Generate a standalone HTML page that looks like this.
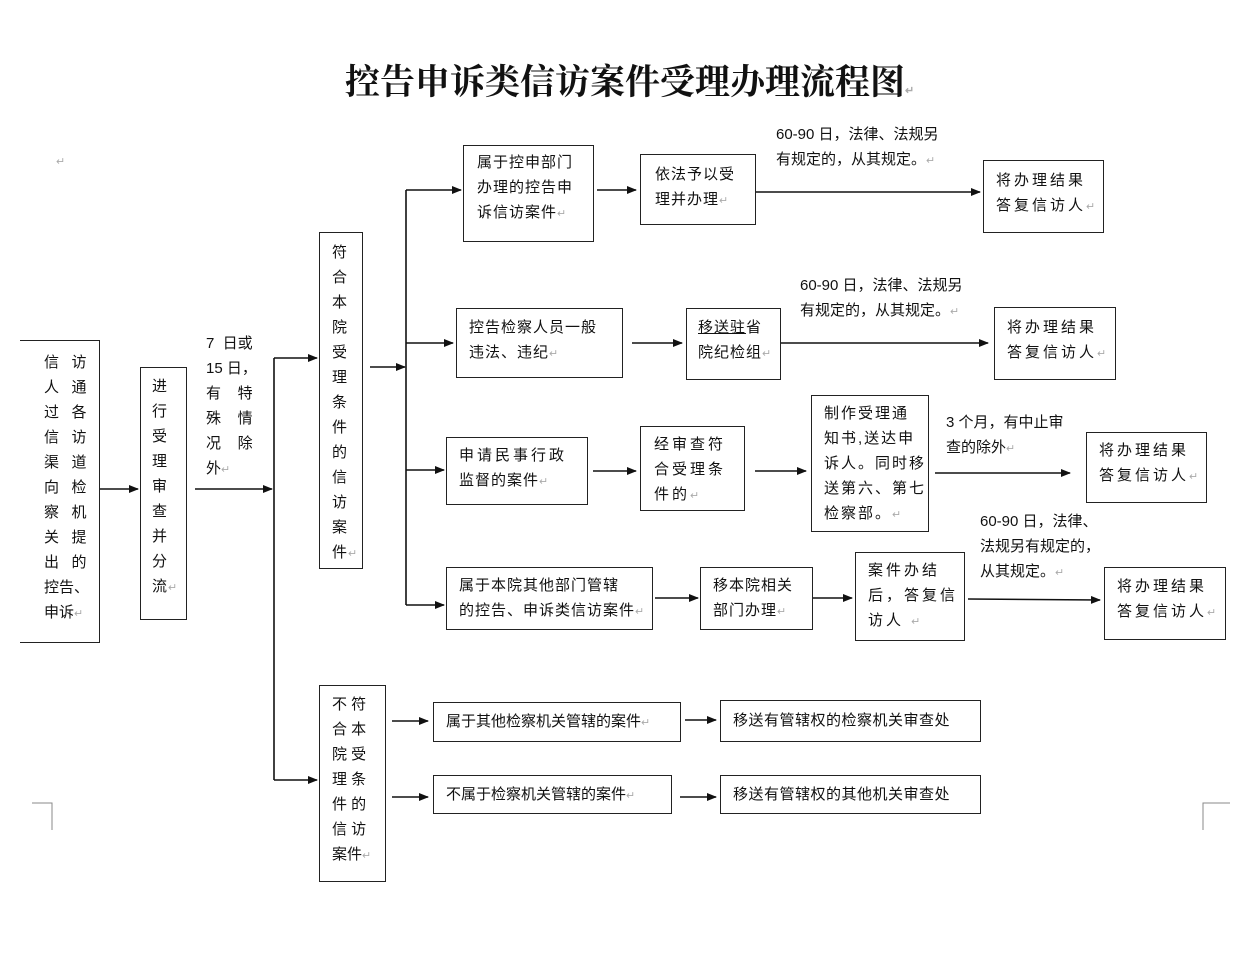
<!DOCTYPE html>
<html><head><meta charset="utf-8"><style>
body{margin:0;width:1235px;height:954px;background:#fff;position:relative;overflow:hidden;font-family:"Liberation Sans","Noto Sans CJK SC",sans-serif;color:#111}
.b{position:absolute;border:1.5px solid #222;box-sizing:border-box}
.t{position:absolute;font-size:15px;line-height:25px;white-space:nowrap;letter-spacing:1px}
.r{color:#aaa;font-size:11px}
svg{position:absolute;left:0;top:0}
</style></head><body>
<div class="t" style="left:345px;top:60px;font-size:35px;line-height:46px;font-weight:bold;font-family:'Liberation Serif','Noto Serif CJK SC',serif;letter-spacing:0">控告申诉类信访案件受理办理流程图<span class="r">↵</span></div>
<div class="t r" style="left:56px;top:150px">↵</div>

<svg width="1235" height="954">
<defs><marker id="a" markerWidth="10" markerHeight="8" refX="9" refY="4" orient="auto" markerUnits="userSpaceOnUse"><path d="M0,0L10,4L0,8z" fill="#111"/></marker></defs>
<g stroke="#111" stroke-width="1.6" fill="none">
<line x1="100" y1="489" x2="138" y2="489" marker-end="url(#a)"/>
<line x1="195" y1="489" x2="272" y2="489" marker-end="url(#a)"/>
<line x1="274" y1="358" x2="274" y2="780"/>
<line x1="274" y1="358" x2="317" y2="358" marker-end="url(#a)"/>
<line x1="274" y1="780" x2="317" y2="780" marker-end="url(#a)"/>
<line x1="370" y1="367" x2="405" y2="367" marker-end="url(#a)"/>
<line x1="406" y1="190" x2="406" y2="605"/>
<line x1="406" y1="190" x2="461" y2="190" marker-end="url(#a)"/>
<line x1="406" y1="343" x2="453" y2="343" marker-end="url(#a)"/>
<line x1="406" y1="470" x2="444" y2="470" marker-end="url(#a)"/>
<line x1="406" y1="605" x2="444" y2="605" marker-end="url(#a)"/>
<line x1="597" y1="190" x2="636" y2="190" marker-end="url(#a)"/>
<line x1="755" y1="192" x2="980" y2="192" marker-end="url(#a)"/>
<line x1="632" y1="343" x2="682" y2="343" marker-end="url(#a)"/>
<line x1="780" y1="343" x2="988" y2="343" marker-end="url(#a)"/>
<line x1="593" y1="471" x2="636" y2="471" marker-end="url(#a)"/>
<line x1="755" y1="471" x2="806" y2="471" marker-end="url(#a)"/>
<line x1="935" y1="473" x2="1070" y2="473" marker-end="url(#a)"/>
<line x1="655" y1="598" x2="698" y2="598" marker-end="url(#a)"/>
<line x1="812" y1="598" x2="852" y2="598" marker-end="url(#a)"/>
<line x1="968" y1="599" x2="1100" y2="600" marker-end="url(#a)"/>
<line x1="392" y1="721" x2="428" y2="721" marker-end="url(#a)"/>
<line x1="392" y1="797" x2="428" y2="797" marker-end="url(#a)"/>
<line x1="685" y1="720" x2="716" y2="720" marker-end="url(#a)"/>
<line x1="680" y1="797" x2="716" y2="797" marker-end="url(#a)"/>
<polyline points="32,803 52,803 52,830" stroke="#888" stroke-width="1"/>
<polyline points="1230,803 1203,803 1203,830" stroke="#888" stroke-width="1"/>
</g></svg>

<div class="b" style="left:20px;top:340px;width:80px;height:303px;border-left:none"></div>
<div class="t" style="left:44px;top:350px;line-height:25px;letter-spacing:0">信&nbsp;&nbsp;&nbsp;访<br>人&nbsp;&nbsp;&nbsp;通<br>过&nbsp;&nbsp;&nbsp;各<br>信&nbsp;&nbsp;&nbsp;访<br>渠&nbsp;&nbsp;&nbsp;道<br>向&nbsp;&nbsp;&nbsp;检<br>察&nbsp;&nbsp;&nbsp;机<br>关&nbsp;&nbsp;&nbsp;提<br>出&nbsp;&nbsp;&nbsp;的<br>控告、<br>申诉<span class="r">↵</span></div>

<div class="b" style="left:140px;top:367px;width:47px;height:253px"></div>
<div class="t" style="left:152px;top:374px">进<br>行<br>受<br>理<br>审<br>查<br>并<br>分<br>流<span class="r">↵</span></div>

<div class="t" style="left:206px;top:331px;line-height:25px;letter-spacing:0">7&nbsp; 日或<br>15 日，<br>有&nbsp;&nbsp;&nbsp;&nbsp;特<br>殊&nbsp;&nbsp;&nbsp;&nbsp;情<br>况&nbsp;&nbsp;&nbsp;&nbsp;除<br>外<span class="r">↵</span></div>

<div class="b" style="left:319px;top:232px;width:44px;height:337px"></div>
<div class="t" style="left:332px;top:240px">符<br>合<br>本<br>院<br>受<br>理<br>条<br>件<br>的<br>信<br>访<br>案<br>件<span class="r">↵</span></div>

<div class="b" style="left:463px;top:145px;width:131px;height:97px"></div>
<div class="t" style="left:477px;top:150px">属于控申部门<br>办理的控告申<br>诉信访案件<span class="r">↵</span></div>
<div class="b" style="left:640px;top:154px;width:116px;height:71px"></div>
<div class="t" style="left:655px;top:162px">依法予以受<br>理并办理<span class="r">↵</span></div>
<div class="t" style="left:776px;top:122px;letter-spacing:0">60-90 日，法律、法规另<br>有规定的，从其规定。<span class="r">↵</span></div>
<div class="b" style="left:983px;top:160px;width:121px;height:73px"></div>
<div class="t" style="left:996px;top:168px;letter-spacing:3px">将办理结果<br>答复信访人<span class="r">↵</span></div>

<div class="b" style="left:456px;top:308px;width:167px;height:70px"></div>
<div class="t" style="left:469px;top:315px">控告检察人员一般<br>违法、违纪<span class="r">↵</span></div>
<div class="b" style="left:686px;top:308px;width:95px;height:72px"></div>
<div class="t" style="left:698px;top:315px"><u>移送驻</u>省<br>院纪检组<span class="r">↵</span></div>
<div class="t" style="left:800px;top:273px;letter-spacing:0">60-90 日，法律、法规另<br>有规定的，从其规定。<span class="r">↵</span></div>
<div class="b" style="left:994px;top:307px;width:122px;height:73px"></div>
<div class="t" style="left:1007px;top:315px;letter-spacing:3px">将办理结果<br>答复信访人<span class="r">↵</span></div>

<div class="b" style="left:446px;top:437px;width:142px;height:68px"></div>
<div class="t" style="left:459px;top:443px;letter-spacing:3px">申请民事行政<br><span style="letter-spacing:1px">监督的案件</span><span class="r">↵</span></div>
<div class="b" style="left:640px;top:426px;width:105px;height:85px"></div>
<div class="t" style="left:654px;top:432px;letter-spacing:3px">经审查符<br>合受理条<br>件的<span class="r">↵</span></div>
<div class="b" style="left:811px;top:395px;width:118px;height:137px"></div>
<div class="t" style="left:824px;top:401px;letter-spacing:2px">制作受理通<br>知书,送达申<br>诉人。同时移<br>送第六、第七<br>检察部。<span class="r">↵</span></div>
<div class="t" style="left:946px;top:410px;letter-spacing:0">3 个月，有中止审<br>查的除外<span class="r">↵</span></div>
<div class="b" style="left:1086px;top:432px;width:121px;height:71px"></div>
<div class="t" style="left:1099px;top:438px;letter-spacing:3px">将办理结果<br>答复信访人<span class="r">↵</span></div>

<div class="b" style="left:446px;top:567px;width:207px;height:63px"></div>
<div class="t" style="left:459px;top:573px">属于本院其他部门管辖<br>的控告、申诉类信访案件<span class="r">↵</span></div>
<div class="b" style="left:700px;top:567px;width:113px;height:63px"></div>
<div class="t" style="left:713px;top:573px">移本院相关<br>部门办理<span class="r">↵</span></div>
<div class="b" style="left:855px;top:552px;width:110px;height:89px"></div>
<div class="t" style="left:868px;top:558px;letter-spacing:3px">案件办结<br>后，答复信<br>访人 <span class="r">↵</span></div>
<div class="t" style="left:980px;top:509px;letter-spacing:0">60-90 日，法律、<br>法规另有规定的，<br>从其规定。<span class="r">↵</span></div>
<div class="b" style="left:1104px;top:567px;width:122px;height:73px"></div>
<div class="t" style="left:1117px;top:574px;letter-spacing:3px">将办理结果<br>答复信访人<span class="r">↵</span></div>

<div class="b" style="left:319px;top:685px;width:67px;height:197px"></div>
<div class="t" style="left:332px;top:692px;letter-spacing:0">不&nbsp;符<br>合&nbsp;本<br>院&nbsp;受<br>理&nbsp;条<br>件&nbsp;的<br>信&nbsp;访<br>案件<span class="r">↵</span></div>

<div class="b" style="left:433px;top:702px;width:248px;height:40px"></div>
<div class="t" style="left:446px;top:709px;letter-spacing:0">属于其他检察机关管辖的案件<span class="r">↵</span></div>
<div class="b" style="left:720px;top:700px;width:261px;height:42px"></div>
<div class="t" style="left:733px;top:708px;letter-spacing:0.5px">移送有管辖权的检察机关审查处</div>
<div class="b" style="left:433px;top:775px;width:239px;height:39px"></div>
<div class="t" style="left:446px;top:782px;letter-spacing:0">不属于检察机关管辖的案件<span class="r">↵</span></div>
<div class="b" style="left:720px;top:775px;width:261px;height:39px"></div>
<div class="t" style="left:733px;top:782px;letter-spacing:0.5px">移送有管辖权的其他机关审查处</div>
</body></html>
